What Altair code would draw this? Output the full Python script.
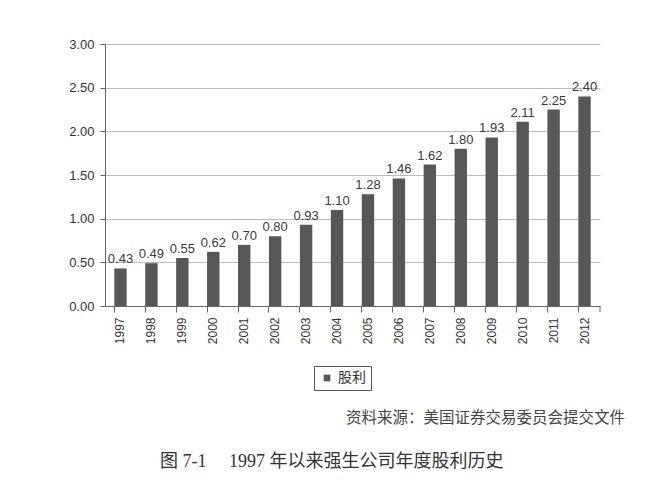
import altair as alt
import pandas as pd

years = [str(y) for y in range(1997, 2013)]
dividends = [0.43, 0.49, 0.55, 0.62, 0.70, 0.80, 0.93, 1.10, 1.28, 1.46,
             1.62, 1.80, 1.93, 2.11, 2.25, 2.40]
series_name = "股利"
source_text = "资料来源：美国证券交易委员会提交文件"
caption_text = "图\u00a07-1\u00a0\u00a0\u00a0\u00a0\u00a01997\u00a0年以来强生公司年度股利历史"

df = pd.DataFrame({"year": years, "value": dividends, "series": series_name})

W, H = 495, 262
BAR = "#575757"
CJK = "Liberation Serif, Noto Sans CJK SC"
LAT = "Liberation Sans, Arial"

x = alt.X("year:N", title=None, sort=years,
          scale=alt.Scale(paddingInner=0.6, paddingOuter=0.3),
          axis=alt.Axis(labelAngle=270, bandPosition=0, tickSize=6, labelPadding=5,
                        labelFontSize=12, labelColor="#333", labelFont=LAT,
                        domainColor="#666", tickColor="#666", grid=False))
y = alt.Y("value:Q", title=None,
          scale=alt.Scale(domain=[0, 3], nice=False),
          axis=alt.Axis(values=[0, 0.5, 1, 1.5, 2, 2.5, 3], format=".2f",
                        labelFontSize=13, labelColor="#333", labelFont=LAT,
                        tickSize=5, labelPadding=6, domainColor="#666",
                        tickColor="#666", gridColor="#bcbcbc", gridWidth=1))

bars = alt.Chart(df).mark_bar(color=BAR).encode(
    x=x, y=y,
    color=alt.Color("series:N", scale=alt.Scale(range=[BAR]),
                    legend=alt.Legend(title=None, orient="none", legendX=209, legendY=322,
                                      symbolType="square", symbolSize=45,
                                      symbolStrokeWidth=0, symbolOffset=1,
                                      labelFontSize=14, labelFont=CJK, labelColor="#333",
                                      labelExpr="datum.label + '\u3000\u3000'",
                                      strokeColor="#555", padding=5)),
)

labels = alt.Chart(df).mark_text(dy=-9, fontSize=13, font=LAT, color="#3a3a3a").encode(
    x=alt.X("year:N", sort=years), y="value:Q", text=alt.Text("value:Q", format=".2f"))

end_tick = alt.Chart(df.head(1)).mark_rule(color="#666").encode(
    x=alt.value(W), y=alt.value(H), y2=alt.value(H + 6))

notes = pd.DataFrame({"t": [source_text]})
source = alt.Chart(notes).mark_text(align="right", baseline="middle", fontSize=15.5,
                                    font=CJK, color="#444").encode(
    x=alt.value(520), y=alt.value(374), text="t:N")
notes2 = pd.DataFrame({"t": [caption_text]})
caption = alt.Chart(notes2).mark_text(align="left", baseline="middle", fontSize=18,
                                      font=CJK, color="#333").encode(
    x=alt.value(55), y=alt.value(418), text="t:N")

chart = alt.layer(bars, labels, end_tick, source, caption).properties(
    width=W, height=H,
    autosize=alt.AutoSizeParams(type="none"),
    padding={"left": 97, "top": 36, "right": 42, "bottom": 184},
    background="white",
).configure_view(stroke=None)

chart.save("out.html", embed_options={"renderer": "svg", "actions": False})
